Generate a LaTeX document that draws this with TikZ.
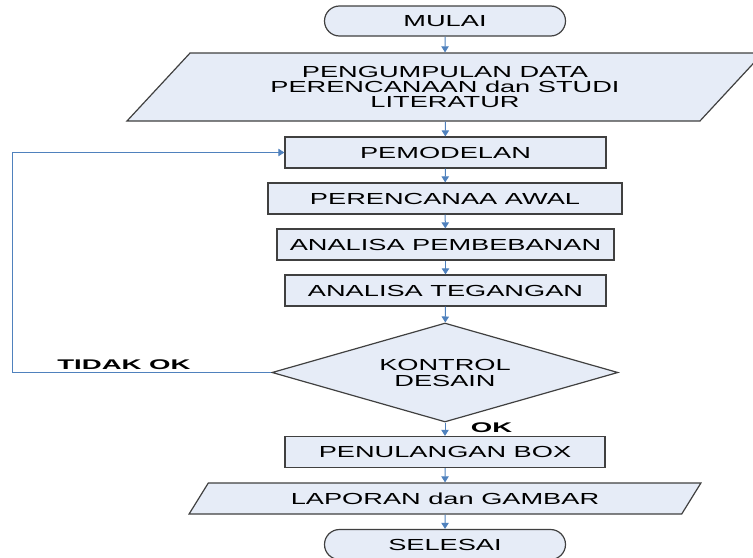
\documentclass[tikz,border=0pt]{standalone}
\usepackage{fontspec}
\setmainfont{Liberation Sans}[FakeStretch=1.7]
\newfontfamily\labelfont{Liberation Sans}[FakeStretch=1.97]
\usetikzlibrary{shapes.geometric,shapes.misc,arrows.meta}

\definecolor{isian}{RGB}{230,236,247}
\definecolor{garis}{RGB}{64,64,64}
\definecolor{panah}{RGB}{79,129,189}

\tikzset{
	bentuk/.style={draw=garis, fill=isian, line width=0.9pt, inner sep=0pt, align=center, font=\fontsize{12}{11.5}\selectfont},
	kotak/.style={bentuk, rectangle, minimum height=23.25pt},
	terminal/.style={bentuk, rounded rectangle, minimum width=180.75pt, minimum height=22.5pt},
	jajar/.style={bentuk, trapezium, trapezium stretches=true},
	alur/.style={draw=panah, line width=0.75pt, -{Triangle[length=4.5pt,width=5.5pt]}},
	label/.style={inner sep=0pt, font=\labelfont\bfseries\fontsize{10.5}{12}\selectfont}
}

\begin{document}
\begin{tikzpicture}[x=0.75pt, y=-0.75pt]

	\useasboundingbox (0,0) rectangle (753,557);
	\clip (0,0) rectangle (753,557);

% 1. Bagian atas
	\node[terminal] (mulai) at (445,21) {MULAI};
	\node[jajar, trapezium left angle=44.2, trapezium right angle=135.8,
		minimum width=478.5pt, minimum height=51pt] (data) at (445,87)
		{PENGUMPULAN DATA\\PERENCANAAN dan STUDI\\LITERATUR};

% 2. Proses
	\node[kotak, minimum width=240.75pt] (model) at (445.5,152.5) {PEMODELAN};
	\node[kotak, minimum width=265.5pt] (awal) at (445,198.5) {PERENCANAA AWAL};
	\node[kotak, minimum width=252.75pt] (beban) at (445.5,244.5) {ANALISA PEMBEBANAN};
	\node[kotak, minimum width=240.75pt] (tegang) at (445.5,290.5) {ANALISA TEGANGAN};

% 3. Keputusan
	\node[bentuk, diamond, aspect=3.5, minimum width=259.5pt, minimum height=74.25pt,
		font=\fontsize{12}{12}\selectfont] (kontrol) at (445,372.5) {KONTROL\\DESAIN};

% 4. Bagian bawah
	\node[kotak, minimum width=240pt] (tulangan) at (445,452) {PENULANGAN BOX};
	\node[jajar, trapezium left angle=43.2, trapezium right angle=136.8,
		minimum width=384pt, minimum height=23.25pt] (lapor) at (445,498.5) {LAPORAN dan GAMBAR};
	\node[terminal] (selesai) at (445,544.5) {SELESAI};

	\node[label] (tidak) at (124,365) {TIDAK OK};
	\node[label] (ok) at (491.5,428) {OK};

% 5. Panah
	\draw[alur] (mulai) -- (data);
	\draw[alur] (data) -- (model);
	\draw[alur] (model) -- (awal);
	\draw[alur] (awal) -- (beban);
	\draw[alur] (beban) -- (tegang);
	\draw[alur] (tegang) -- (kontrol);
	\draw[alur] (kontrol) -- (tulangan);
	\draw[alur] (tulangan) -- (lapor);
	\draw[alur] (lapor) -- (selesai);

	\coordinate (kiri) at (12,372.5);
	\draw[alur] (kontrol.west) -- (kiri) |- (model.west);

\end{tikzpicture}
\end{document}
